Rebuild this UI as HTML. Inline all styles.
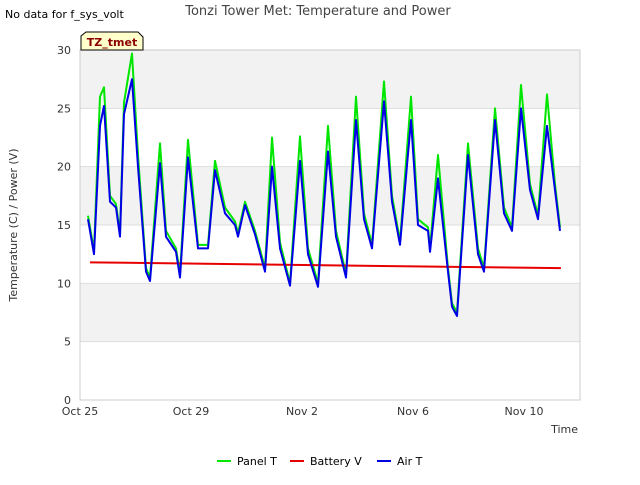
<!DOCTYPE html>
<html><head><meta charset="utf-8"><style>
body{margin:0;background:#fff;font-family:"Liberation Sans",sans-serif;}
svg text{font-family:"DejaVu Sans","Liberation Sans",sans-serif;}
</style></head><body>
<svg width="640" height="480" id="c">
<text x="5" y="18" font-size="11">No data for f_sys_volt</text>
<text x="318" y="15" font-size="13" fill="#444" text-anchor="middle">Tonzi Tower Met: Temperature and Power</text>
<g id="plot"></g>
<text x="17" y="225" font-size="11" fill="#333" text-anchor="middle" transform="rotate(-90 17 225)">Temperature (C) / Power (V)</text>
<text x="578" y="433" font-size="11" fill="#333" text-anchor="end">Time</text>
<g>
<line x1="217" y1="461" x2="231" y2="461" stroke="#00e600" stroke-width="2"/><text x="237" y="465" font-size="11">Panel T</text>
<line x1="290" y1="461" x2="304" y2="461" stroke="#e60000" stroke-width="2"/><text x="310" y="465" font-size="11">Battery V</text>
<line x1="377" y1="461" x2="391" y2="461" stroke="#0000e6" stroke-width="2"/><text x="397" y="465" font-size="11">Air T</text>
</g>
<g>
<path d="M81,50 L81,36 L86,32 L138,32 L143,37 L143,50 Z" fill="#ffffcc" stroke="#000"/>
<text x="112" y="46" font-size="11" font-weight="bold" fill="#8b0000" text-anchor="middle">TZ_tmet</text>
</g>
</svg>
<script>
const xPix=[88,92,94,100,104,110,116,120,124,132,138,146,150,160,166,176,180,188,198,208,215,225,235,238,245,255,265,272,280,290,300,308,318,328,336,346,356,364,372,384,392,400,411,418,428,430,438,448,452,457,468,478,484,495,504,512,521,530,538,547,555,560];
const days=xPix.map(p=>(p-80)/27.75);
const airT=[15.5,13.5,12.5,23.5,25.2,17,16.5,14,24.5,27.5,20,11,10.2,20.3,14,12.7,10.5,20.8,13,13,19.7,16,15,14,16.7,14.2,11,20,13,9.8,20.5,12.5,9.7,21.3,14,10.5,24,15.5,13,25.6,17,13.3,24,15,14.5,12.7,19,11,8,7.2,21,12.5,11,24,16,14.5,25,18,15.5,23.5,18,14.5];
const panelT=[15.8,13.8,12.8,26,26.8,17.5,16.8,14.3,25.5,29.7,21,11.3,10.5,22,14.5,13,10.8,22.3,13.3,13.3,20.5,16.5,15.3,14.3,17,14.5,11.3,22.5,13.5,10,22.6,13,10,23.5,14.5,10.8,26,16,13.3,27.3,17.5,13.6,26,15.5,14.8,13,21,11.3,8.3,7.5,22,13,11.3,25,16.5,14.8,27,18.5,15.8,26.2,18.5,14.8];
const battDays=[0.36,17.33];
const battV=[11.8,11.3];
const yTicks=[0,5,10,15,20,25,30];
const xTickDays=[0,4,8,12,16];
const xTickLabels=["Oct 25","Oct 29","Nov 2","Nov 6","Nov 10"];
const X=d=>80+d*27.75, Y=v=>400-v*350/30;
const ns="http://www.w3.org/2000/svg",g=document.getElementById('plot');
function el(t,a){const e=document.createElementNS(ns,t);for(const k in a)e.setAttribute(k,a[k]);g.appendChild(e);return e;}
for(let i=0;i<6;i++){if(i%2==1){const b=el('rect',{x:80,y:Y(yTicks[i+1]),width:500,height:Y(yTicks[i])-Y(yTicks[i+1]),fill:'#f2f2f2'});

}}
yTicks.forEach(v=>{const l=el('line',{x1:80,x2:580,y1:Y(v),y2:Y(v),stroke:'#ddd'});


const t=el('text',{x:71,y:Y(v)+4,'font-size':11,'text-anchor':'end',fill:'#333'});t.textContent=v;

});
const fr=el('rect',{x:80,y:50,width:500,height:350,fill:'none',stroke:'#ccc'});


xTickDays.forEach((d,i)=>{const t=el('text',{x:X(d),y:415,'font-size':11,'text-anchor':'middle',fill:'#333'});t.textContent=xTickLabels[i];

});
function line(xs,ys,c,n){const p=el('polyline',{points:xs.map((d,i)=>X(d)+','+Y(ys[i])).join(' '),fill:'none',stroke:c,'stroke-width':2,'stroke-linejoin':'round'});

}
line(days,panelT,'#00e600','panel-t-line');
line(battDays,battV,'#e60000','battery-v-line');
line(days,airT,'#0000e6','air-t-line');
</script>
</body></html>
